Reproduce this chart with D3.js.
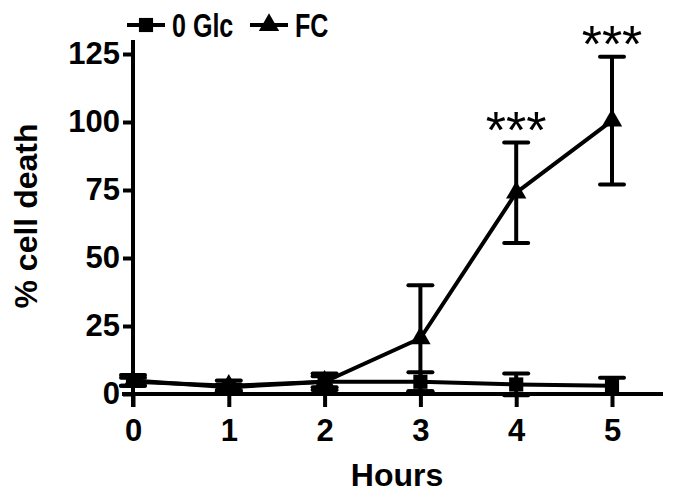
<!DOCTYPE html>
<html>
<head>
<meta charset="utf-8">
<script src="https://cdn.jsdelivr.net/npm/d3@7"></script>
<style>
  body { margin: 0; background: #fff; }
  text { font-family: "Liberation Sans", Arial, sans-serif; font-weight: bold; fill: #000; }
</style>
</head>
<body>
<div id="chart"></div>
<script>
// data
const hours = [0, 1, 2, 3, 4, 5];
const glc_mean = [5, 2.5, 4.5, 4.5, 3.5, 3];
const glc_err  = [2, 1, 3, 3.5, 4, 3];
const fc_mean  = [4.5, 3, 4.5, 20.5, 74, 100.5];
const fc_err   = [1.5, 2, 2, 19.5, 18.5, 23.5];
const y_ticks  = [0, 25, 50, 75, 100, 125];
const star_at  = [4, 5];

const chart_dims = {
  width:  679,
  height: 500,
  x_range: [133, 612],
  y_range: [394, 54]
};

const svg = d3.select("#chart")
  .append("svg")
    .attr("width", chart_dims.width)
    .attr("height", chart_dims.height);

const x = d3.scaleLinear().domain([0, 5]).range(chart_dims.x_range);
const y = d3.scaleLinear().domain([0, 125]).range(chart_dims.y_range);

// axes
const x_axis = svg.append("g")
  .attr("transform", `translate(0,${y(0)})`)
  .call(d3.axisBottom(x).tickValues(hours).tickFormat(d3.format("d")).tickSize(13).tickPadding(12).tickSizeOuter(0));
const y_axis = svg.append("g")
  .attr("transform", `translate(${x(0)},0)`)
  .call(d3.axisLeft(y).tickValues(y_ticks).tickSize(10).tickPadding(3).tickSizeOuter(0));

[x_axis, y_axis].forEach(ax => {
  ax.select(".domain").attr("stroke", "#000").attr("stroke-width", 4);
  ax.selectAll(".tick line").attr("stroke", "#000").attr("stroke-width", 4);
  ax.selectAll(".tick text").style("font-size", "31px").attr("fill", "#000");
});
// x axis line runs past the last tick and left to the y tick
x_axis.select(".domain").attr("d", `M${x(0) - 11},0H663`);
y_axis.select(".domain").attr("d", `M0,${y(0) + 13}V40`);

// axis titles
svg.append("text")
  .attr("x", 397).attr("y", 486)
  .attr("text-anchor", "middle")
  .style("font-size", "32px")
  .text("Hours");
svg.append("text")
  .attr("transform", "translate(37,216) rotate(-90)")
  .attr("text-anchor", "middle")
  .style("font-size", "32px")
  .text("% cell death");

const line = d3.line().x((d, i) => x(hours[i])).y(d => y(d));

function draw_series(means, errs, marker) {
  const g = svg.append("g");
  g.append("path")
    .datum(means)
    .attr("d", line)
    .attr("fill", "none")
    .attr("stroke", "#000")
    .attr("stroke-width", 4);
  const bars = g.selectAll(".err")
    .data(means)
    .join("g");
  bars.append("line")
    .attr("x1", (d, i) => x(hours[i])).attr("x2", (d, i) => x(hours[i]))
    .attr("y1", (d, i) => y(d - errs[i])).attr("y2", (d, i) => y(d + errs[i]))
    .attr("stroke", "#000").attr("stroke-width", 4);
  [-1, 1].forEach(s => {
    bars.append("line")
      .attr("x1", (d, i) => x(hours[i]) - 12).attr("x2", (d, i) => x(hours[i]) + 12)
      .attr("y1", (d, i) => y(d + s * errs[i])).attr("y2", (d, i) => y(d + s * errs[i]))
      .attr("stroke", "#000").attr("stroke-width", 4).attr("stroke-linecap", "round");
  });
  g.selectAll(".mk")
    .data(means)
    .join("path")
      .attr("transform", (d, i) => `translate(${x(hours[i])},${y(d)})`)
      .attr("d", d3.symbol().type(marker).size(marker === d3.symbolSquare ? 200 : 180))
      .attr("fill", "#000");
}

draw_series(glc_mean, glc_err, d3.symbolSquare);
draw_series(fc_mean, fc_err, d3.symbolTriangle);

// significance stars
svg.selectAll(".star")
  .data(star_at)
  .join("text")
    .attr("x", d => x(d))
    .attr("y", d => y(fc_mean[d] + fc_err[d]) + 8)
    .attr("dy", "-0.05em")
    .attr("text-anchor", "middle")
    .style("font-size", "52px")
    .style("font-weight", "normal")
    .text("***");

// legend
const legend_items = [
  { label: "0 Glc", marker: d3.symbolSquare, x0: 127 },
  { label: "FC", marker: d3.symbolTriangle, x0: 250 }
];
const legend = svg.append("g");
legend_items.forEach(item => {
  legend.append("line")
    .attr("x1", item.x0).attr("x2", item.x0 + 38)
    .attr("y1", 25).attr("y2", 25)
    .attr("stroke", "#000").attr("stroke-width", 4);
  legend.append("path")
    .attr("transform", `translate(${item.x0 + 19},25)`)
    .attr("d", d3.symbol().type(item.marker).size(item.marker === d3.symbolSquare ? 200 : 180))
    .attr("fill", "#000");
  legend.append("text")
    .attr("transform", `translate(${item.x0 + 45},37) scale(0.76,1)`)
    .style("font-size", "33px")
    .text(item.label);
});
</script>
</body>
</html>
